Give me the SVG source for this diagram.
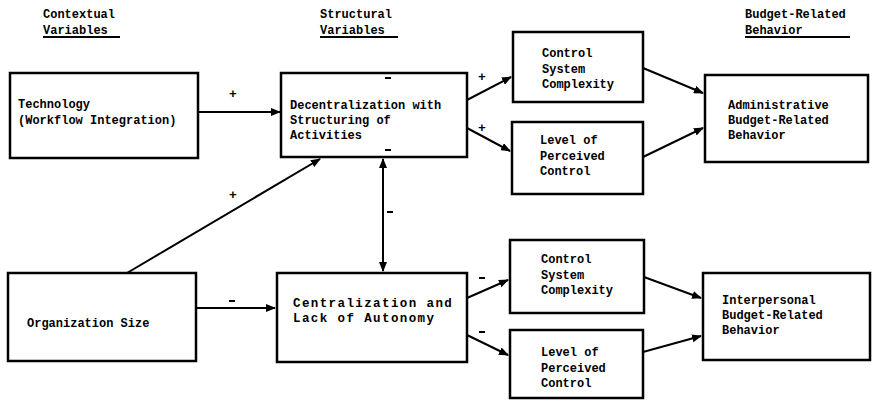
<svg xmlns="http://www.w3.org/2000/svg" width="873" height="402" viewBox="0 0 873 402">
  <defs>
    <marker id="arrow" viewBox="0 0 10 8" refX="9" refY="4" markerWidth="10" markerHeight="8" markerUnits="userSpaceOnUse" orient="auto-start-reverse">
      <path d="M0,0 L10,4 L0,8 z" fill="#000"/>
    </marker>
    <style>
      .box { fill: #fff; stroke: #000; stroke-width: 2.5; }
      .lbl { font-family: "Liberation Mono", "DejaVu Sans Mono", monospace; font-weight: bold; font-size: 12px; fill: #000; }
      .big { font-size: 12.5px; letter-spacing: 1.4px; }
      .hdr { font-family: "Liberation Mono", "DejaVu Sans Mono", monospace; font-weight: bold; font-size: 12px; fill: #000; }
      .ul { stroke: #000; stroke-width: 2; }
      .edge { stroke: #000; stroke-width: 2; fill: none; marker-end: url(#arrow); }
      .sign { font-family: "Liberation Mono", "DejaVu Sans Mono", monospace; font-weight: bold; font-size: 13px; fill: #000; text-anchor: middle; }
      .tick { stroke: #000; stroke-width: 2; }
    </style>
  </defs>

  <!-- column headings -->
  <g id="headings">
    <text class="hdr" x="43" y="18">Contextual</text>
    <text class="hdr" x="43" y="34">Variables</text>
    <line class="ul" x1="43" y1="37" x2="120" y2="37"/>
    <text class="hdr" x="320" y="18">Structural</text>
    <text class="hdr" x="320" y="34">Variables</text>
    <line class="ul" x1="320" y1="37" x2="398" y2="37"/>
    <text class="hdr" x="745" y="18">Budget-Related</text>
    <text class="hdr" x="745" y="34">Behavior</text>
    <line class="ul" x1="745" y1="37" x2="850" y2="37"/>
  </g>

  <!-- connectors -->
  <g id="connectors">
    <line class="edge" x1="198" y1="112" x2="280" y2="112"/>
    <line class="edge" x1="127" y1="273" x2="320" y2="159"/>
    <line class="edge" x1="383" y1="182" x2="383" y2="159"/>
    <line class="edge" x1="383" y1="182" x2="383" y2="271"/>
    <line class="edge" x1="196" y1="308" x2="275" y2="308"/>
    <line class="edge" x1="467" y1="100" x2="511" y2="77"/>
    <line class="edge" x1="467" y1="128" x2="510" y2="151"/>
    <line class="edge" x1="643" y1="68" x2="703" y2="93"/>
    <line class="edge" x1="643" y1="157" x2="703" y2="128"/>
    <line class="edge" x1="467" y1="298" x2="508" y2="280"/>
    <line class="edge" x1="467" y1="335" x2="508" y2="355"/>
    <line class="edge" x1="644" y1="277" x2="701" y2="298"/>
    <line class="edge" x1="643" y1="352" x2="701" y2="336"/>
    <!-- signs -->
    <text class="sign" x="233" y="98">+</text>
    <text class="sign" x="233" y="199">+</text>
    <text class="sign" x="482" y="81">+</text>
    <text class="sign" x="482" y="132">+</text>
    <line class="tick" x1="387" y1="212" x2="393" y2="212"/>
    <line class="tick" x1="229" y1="301" x2="235" y2="301"/>
    <line class="tick" x1="479" y1="278" x2="485" y2="278"/>
    <line class="tick" x1="479" y1="332" x2="485" y2="332"/>
  </g>

  <g id="technology">
    <rect class="box" x="10" y="73" width="188" height="85"/>
    <text class="lbl" x="18" y="108">Technology</text>
    <text class="lbl" x="18" y="124">(Workflow Integration)</text>
  </g>

  <g id="org-size">
    <rect class="box" x="8" y="273" width="188" height="88"/>
    <text class="lbl" x="27" y="327">Organization Size</text>
  </g>

  <g id="decentralization">
    <rect class="box" x="281" y="73" width="186" height="84"/>
    <line class="tick" x1="385" y1="78" x2="391" y2="78"/>
    <line class="tick" x1="385" y1="150" x2="391" y2="150"/>
    <text class="lbl" x="290" y="109">Decentralization with</text>
    <text class="lbl" x="290" y="124">Structuring of</text>
    <text class="lbl" x="290" y="139">Activities</text>
  </g>

  <g id="centralization">
    <rect class="box" x="277" y="273" width="190" height="89"/>
    <text class="lbl big" x="293" y="307">Centralization and</text>
    <text class="lbl big" x="293" y="322">Lack of Autonomy</text>
  </g>

  <g id="complexity-top">
    <rect class="box" x="513" y="32" width="130" height="70"/>
    <text class="lbl" x="542" y="57">Control</text>
    <text class="lbl" x="542" y="73">System</text>
    <text class="lbl" x="542" y="88">Complexity</text>
  </g>

  <g id="perceived-top">
    <rect class="box" x="512" y="122" width="131" height="72"/>
    <text class="lbl" x="540" y="144">Level of</text>
    <text class="lbl" x="540" y="160">Perceived</text>
    <text class="lbl" x="540" y="175">Control</text>
  </g>

  <g id="complexity-bottom">
    <rect class="box" x="510" y="240" width="134" height="73"/>
    <text class="lbl" x="541" y="263">Control</text>
    <text class="lbl" x="541" y="279">System</text>
    <text class="lbl" x="541" y="294">Complexity</text>
  </g>

  <g id="perceived-bottom">
    <rect class="box" x="510" y="330" width="133" height="68"/>
    <text class="lbl" x="541" y="356">Level of</text>
    <text class="lbl" x="541" y="372">Perceived</text>
    <text class="lbl" x="541" y="387">Control</text>
  </g>

  <g id="administrative">
    <rect class="box" x="705" y="75" width="163" height="87"/>
    <text class="lbl" x="728" y="109">Administrative</text>
    <text class="lbl" x="728" y="124">Budget-Related</text>
    <text class="lbl" x="728" y="139">Behavior</text>
  </g>

  <g id="interpersonal">
    <rect class="box" x="703" y="273" width="167" height="87"/>
    <text class="lbl" x="722" y="304">Interpersonal</text>
    <text class="lbl" x="722" y="319">Budget-Related</text>
    <text class="lbl" x="722" y="334">Behavior</text>
  </g>
</svg>
